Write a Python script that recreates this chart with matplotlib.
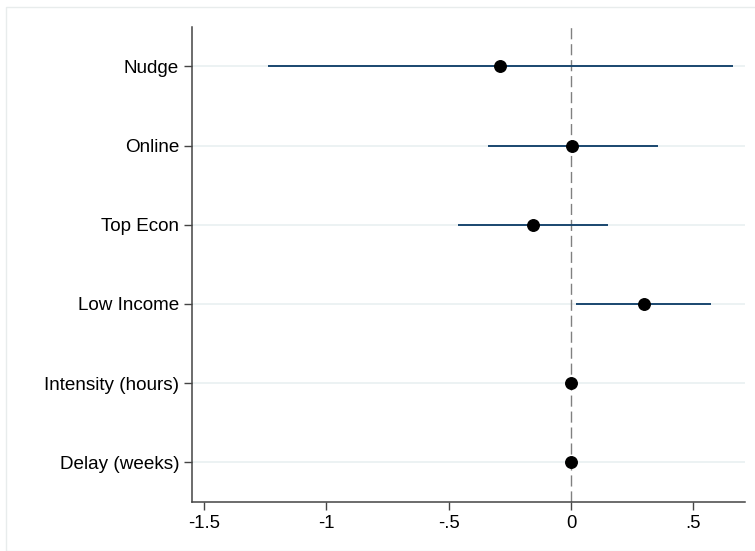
import matplotlib
matplotlib.use("Agg")
import matplotlib.pyplot as plt
from matplotlib.patches import Rectangle
import numpy as np

plt.rcParams['font.family'] = ['Liberation Sans', 'DejaVu Sans']

# coefficients and 95% CI (top to bottom)
labels = ["Nudge", "Online", "Top Econ", "Low Income", "Intensity (hours)", "Delay (weeks)"]
coef = [-0.289, 0.005, -0.157, 0.297, 0.001, -0.001]
ci_lo = [-1.240, -0.341, -0.462, 0.020, -0.003, -0.004]
ci_hi = [0.662, 0.354, 0.150, 0.572, 0.004, 0.002]
xticks = [-1.5, -1, -0.5, 0, 0.5]
xticklabels = ["-1.5", "-1", "-.5", "0", ".5"]

ypos = np.arange(len(labels), 0, -1)

fig = plt.figure(figsize=(7.55, 5.51), dpi=100)
ax = fig.add_axes([191.7 / 755, 49 / 551, (745 - 191.7) / 755, (502 - 26.7) / 551])

# outer light frame like Stata's graph region
fig.patches.append(Rectangle((5.5 / 755, 0.5 / 551), 2, 543.5 / 551, transform=fig.transFigure,
                             fill=False, edgecolor='#e8ecec', linewidth=1.0))

for y in ypos:
    ax.axhline(y, color='#eaf1f2', linewidth=1.3, zorder=0)

ax.axvline(0, color='#808080', linewidth=1.0, dashes=(8, 3.5), zorder=1)

ax.hlines(ypos, ci_lo, ci_hi, color='#1a476f', linewidth=1.4, zorder=2)
ax.plot(coef, ypos, 'o', color='black', markersize=8.3, zorder=3)

ax.set_xlim(-1.55, 0.711)
ax.set_ylim(0.5, len(labels) + 0.5)
ax.set_yticks(ypos)
ax.set_yticklabels(labels, fontsize=13.6)
ax.set_xticks(xticks)
ax.set_xticklabels(xticklabels, fontsize=13.3)

for s in ['top', 'right']:
    ax.spines[s].set_visible(False)
for s in ['left', 'bottom']:
    ax.spines[s].set_color('#444444')
    ax.spines[s].set_linewidth(1.1)
ax.tick_params(axis='both', length=5.5, width=1.0, color='#444444', pad=4)
ax.tick_params(axis='y', pad=3.5)

fig.savefig("out.png", dpi=100)
